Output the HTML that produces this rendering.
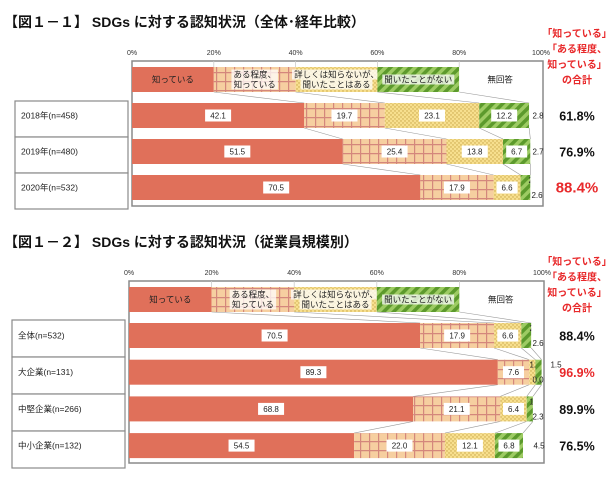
<!DOCTYPE html>
<html><head><meta charset="utf-8">
<style>
html,body{margin:0;padding:0;background:#fff;}
body{width:610px;height:479px;overflow:hidden;font-family:"Liberation Sans","Noto Sans CJK JP",sans-serif;}
svg text{font-family:"Liberation Sans","Noto Sans CJK JP",sans-serif;}
</style></head>
<body>
<svg id="chart" width="610" height="479" viewBox="0 0 610 479" xmlns="http://www.w3.org/2000/svg">
<defs>
<pattern id="pGrid" width="9" height="9" patternUnits="userSpaceOnUse">
<rect width="9" height="9" fill="#F6CFA0"/><path d="M0 0.6H9M0.6 0V9" stroke="#D4877C" stroke-width="1.2"/></pattern>
<pattern id="pDot" width="4" height="4" patternUnits="userSpaceOnUse">
<rect width="4" height="4" fill="#F7DF8E"/><circle cx="1" cy="1" r="0.7" fill="#C8A547"/><circle cx="3" cy="3" r="0.7" fill="#C8A547"/></pattern>
<pattern id="pStripe" width="7" height="7" patternUnits="userSpaceOnUse" patternTransform="rotate(45)">
<rect width="7" height="7" fill="#9DCB63"/><rect width="3.5" height="7" fill="#5C9A2C"/></pattern>
</defs>
<text x="4" y="27" font-size="14" font-weight="bold" fill="#111">【図１－１】 SDGs に対する認知状況（全体･経年比較）</text>
<text x="4" y="247" font-size="14" font-weight="bold" fill="#111">【図１－２】 SDGs に対する認知状況（従業員規模別）</text>
<g id="c1"></g><g id="c2"></g>
</svg>
<script>
const legendLabels = [["知っている"],["ある程度、","知っている"],["詳しくは知らないが、","聞いたことはある"],["聞いたことがない"],["無回答"]];
const ticks = ["0%","20%","40%","60%","80%","100%"];
const c1Categories = ["2018年(n=458)","2019年(n=480)","2020年(n=532)"];
const c1Values = [[42.1,19.7,23.1,12.2,2.8],[51.5,25.4,13.8,6.7,2.7],[70.5,17.9,6.6,2.4,2.6]];
const c1Totals = ["61.8%","76.9%","88.4%"];
const c1Highlight = [false,false,true];
const c2Categories = ["全体(n=532)","大企業(n=131)","中堅企業(n=266)","中小企業(n=132)"];
const c2Values = [[70.5,17.9,6.6,2.4,2.6],[89.3,7.6,1.5,1.5,0.0],[68.8,21.1,6.4,1.5,2.3],[54.5,22.0,12.1,6.8,4.5]];
const c2Totals = ["88.4%","96.9%","89.9%","76.5%"];
const c2Highlight = [false,true,false,false];

const NS="http://www.w3.org/2000/svg";
const fills=["#E0705A","url(#pGrid)","url(#pDot)","url(#pStripe)","#FFFFFF"];
function mk(parent,tag,attrs,txt){const e=document.createElementNS(NS,tag);for(const k in attrs)e.setAttribute(k,attrs[k]);if(txt!==undefined)e.textContent=txt;parent.appendChild(e);return e;}

function draw(g,cfg,cats,vals,totals,hi,prefix){
  const sx=v=>cfg.x0+(cfg.x1-cfg.x0)*v/100;
  // frame
  const fr=mk(g,"rect",{x:cfg.x0,y:cfg.frameTop,width:cfg.x1-cfg.x0+2,height:cfg.frameBot-cfg.frameTop,fill:"none",stroke:"#8a8a8a","stroke-width":1.5});
  
  
  ticks.forEach((t,i)=>{
    const x=sx(i*20);
    if(i>0&&i<5){const gl=mk(g,"line",{x1:x,x2:x,y1:cfg.frameTop,y2:cfg.legTop,stroke:"#ccc","stroke-width":0.8});
      
      }
    const tx=mk(g,"text",{x:x,y:cfg.tickY,"font-size":7,"text-anchor":"middle",fill:"#333"},t);
    
    
  });
  // legend row
  legendLabels.forEach((lb,i)=>{
    const r=mk(g,"rect",{x:sx(i*20),y:cfg.legTop,width:sx(20)-sx(0),height:cfg.barH,fill:fills[i]});
    
    
    lb.forEach((l,j)=>{
      const ty=cfg.legTop+cfg.barH/2+3+(j-(lb.length-1)/2)*10;
      const w=l.length*8.5+4;
      if(i>0&&i<4){const bg=mk(g,"rect",{x:sx(i*20+10)-w/2,y:ty-8,width:w,height:10,fill:"#fff","fill-opacity":0.75});
        
        }
      const t=mk(g,"text",{x:sx(i*20+10),y:ty,"font-size":8.5,"text-anchor":"middle",fill:"#222"},l);
      
      
    });
  });
  // leader lines
  let prevCum=[20,40,60,80], prevBot=cfg.legTop+cfg.barH;
  vals.forEach((row,r)=>{
    const top=cfg.barTop+r*cfg.pitch;
    let c=0;const cum=[];row.slice(0,4).forEach(v=>{c+=v;cum.push(c);});
    cum.forEach((cv,k)=>{const ln=mk(g,"line",{x1:sx(prevCum[k]),y1:prevBot,x2:sx(cv),y2:top,stroke:"#999","stroke-width":0.6});
      
      });
    prevCum=cum;prevBot=top+cfg.barH;
  });
  // bars
  vals.forEach((row,r)=>{
    const top=cfg.barTop+r*cfg.pitch;
    // category box
    const by=cfg.boxTop+r*cfg.boxPitch;
    const cb=mk(g,"rect",{x:cfg.boxX,y:by,width:cfg.boxW,height:cfg.boxPitch,fill:"#fff",stroke:"#8a8a8a","stroke-width":1.2});
    
    
    const ct=mk(g,"text",{x:cfg.boxX+6,y:top+cfg.barH/2+3,"font-size":8.5,fill:"#222"},cats[r]);
    
    
    let c=0;
    row.forEach((v,i)=>{
      const xa=sx(c),xb=sx(c+v);c+=v;
      const seg=mk(g,"rect",{x:xa,y:top,width:Math.max(0,xb-xa),height:cfg.barH,fill:fills[i]});
      
      
      let lx=(xa+xb)/2, ly=top+cfg.barH/2+3, box=true;
      if(v<5){
        box=false;
        if(i===2){lx=cfg.x1-7;ly=top+8;}
        else if(i===3){if(row[2]<5){lx=cfg.x1+14;ly=top+8;}else{lx=cfg.x1-7;ly=top+8;}}
        else if(i===4){if(row[3]<5){lx=cfg.x1-4;ly=top+cfg.barH-2;}else{lx=cfg.x1-3;}}
      }
      const s=v.toFixed(1);
      if(box){const bw=s.length*5+6;const bx=mk(g,"rect",{x:lx-bw/2,y:ly-9,width:bw,height:12,fill:"#fff"});
        
        }
      const vt=mk(g,"text",{x:lx,y:ly,"font-size":8,"text-anchor":"middle",fill:"#222"},s);
      
      
    });
    const tt=mk(g,"text",{x:577,y:top+cfg.barH/2+5,"font-size":hi[r]&&prefix==="c1"?15:12.5,"font-weight":"bold","text-anchor":"middle",fill:hi[r]?"#E8282A":"#111"},totals[r]);
    
    
  });
  ["「知っている」","「ある程度、","知っている」","の合計"].forEach((h,i)=>{
    const ht=mk(g,"text",{x:577,y:cfg.hdrY+i*15.5,"font-size":10,"font-weight":"bold","text-anchor":"middle",fill:"#E8282A"},h);
    
    
  });
}
draw(document.getElementById("c1"),{x0:132,x1:541,frameTop:61,frameBot:206,tickY:55,legTop:67,barTop:103,barH:25,pitch:36,boxX:15,boxW:113,boxTop:101,boxPitch:36,hdrY:37},c1Categories,c1Values,c1Totals,c1Highlight,"c1");
draw(document.getElementById("c2"),{x0:129,x1:542,frameTop:281,frameBot:463,tickY:275,legTop:287,barTop:323,barH:25,pitch:36.7,boxX:12,boxW:113,boxTop:320,boxPitch:37,hdrY:265},c2Categories,c2Values,c2Totals,c2Highlight,"c2");
</script>
</body></html>
